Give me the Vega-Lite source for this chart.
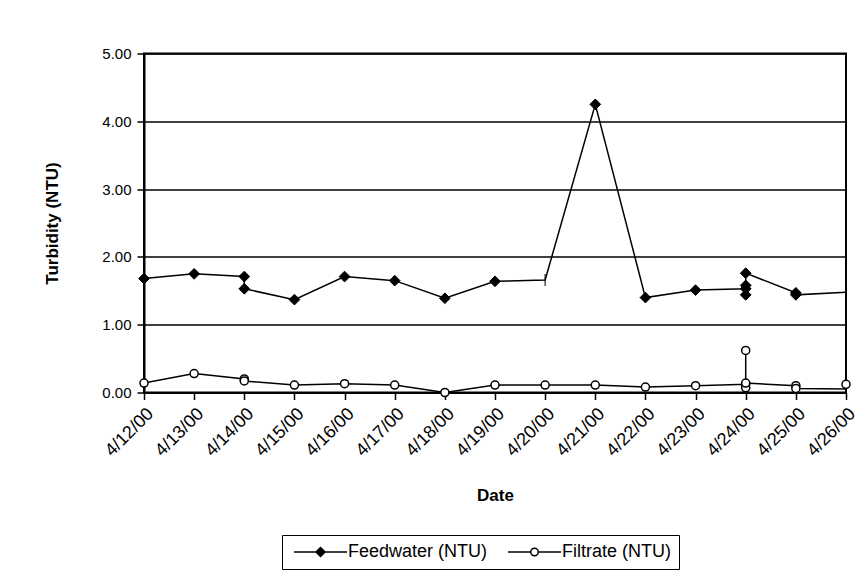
{
  "$schema": "https://vega.github.io/schema/vega-lite/v6.json",
  "width": 702,
  "height": 339,
  "autosize": {"type": "none"},
  "padding": {"left": 144, "top": 53.5, "right": 16, "bottom": 192},
  "background": "white",
  "config": {
    "font": "Liberation Sans",
    "view": {"stroke": "black", "strokeWidth": 2},
    "axis": {"labelFont": "Liberation Sans", "titleFont": "Liberation Sans", "labelColor": "black", "titleColor": "black", "labelFontSize": 15, "titleFontSize": 17, "titleFontWeight": "bold", "domainColor": "black", "tickColor": "black", "domainWidth": 2, "tickWidth": 1.5, "tickSize": 7},
    "legend": {"labelFont": "Liberation Sans", "labelFontSize": 18, "labelColor": "black", "symbolStrokeColor": "black", "symbolStrokeWidth": 1.5}
  },
  "data": {
    "values": [
      {"series": "Feedwater (NTU)", "date": "2000-04-12", "value": 1.68, "seq": 1, "marked": true},
      {"series": "Feedwater (NTU)", "date": "2000-04-13", "value": 1.75, "seq": 2, "marked": true},
      {"series": "Feedwater (NTU)", "date": "2000-04-14", "value": 1.71, "seq": 3, "marked": true},
      {"series": "Feedwater (NTU)", "date": "2000-04-14", "value": 1.53, "seq": 4, "marked": true},
      {"series": "Feedwater (NTU)", "date": "2000-04-15", "value": 1.37, "seq": 5, "marked": true},
      {"series": "Feedwater (NTU)", "date": "2000-04-16", "value": 1.71, "seq": 6, "marked": true},
      {"series": "Feedwater (NTU)", "date": "2000-04-17", "value": 1.65, "seq": 7, "marked": true},
      {"series": "Feedwater (NTU)", "date": "2000-04-18", "value": 1.39, "seq": 8, "marked": true},
      {"series": "Feedwater (NTU)", "date": "2000-04-19", "value": 1.64, "seq": 9, "marked": true},
      {"series": "Feedwater (NTU)", "date": "2000-04-20", "value": 1.66, "seq": 10, "marked": false},
      {"series": "Feedwater (NTU)", "date": "2000-04-21", "value": 4.25, "seq": 11, "marked": true},
      {"series": "Feedwater (NTU)", "date": "2000-04-22", "value": 1.40, "seq": 12, "marked": true},
      {"series": "Feedwater (NTU)", "date": "2000-04-23", "value": 1.51, "seq": 13, "marked": true},
      {"series": "Feedwater (NTU)", "date": "2000-04-24", "value": 1.53, "seq": 14, "marked": true},
      {"series": "Feedwater (NTU)", "date": "2000-04-24", "value": 1.58, "seq": 15, "marked": true},
      {"series": "Feedwater (NTU)", "date": "2000-04-24", "value": 1.44, "seq": 16, "marked": true},
      {"series": "Feedwater (NTU)", "date": "2000-04-24", "value": 1.76, "seq": 17, "marked": true},
      {"series": "Feedwater (NTU)", "date": "2000-04-25", "value": 1.47, "seq": 18, "marked": true},
      {"series": "Feedwater (NTU)", "date": "2000-04-25", "value": 1.44, "seq": 19, "marked": true},
      {"series": "Feedwater (NTU)", "date": "2000-04-26", "value": 1.48, "seq": 20, "marked": false},
      {"series": "Filtrate (NTU)", "date": "2000-04-12", "value": 0.14, "seq": 1, "marked": true},
      {"series": "Filtrate (NTU)", "date": "2000-04-13", "value": 0.28, "seq": 2, "marked": true},
      {"series": "Filtrate (NTU)", "date": "2000-04-14", "value": 0.20, "seq": 3, "marked": true},
      {"series": "Filtrate (NTU)", "date": "2000-04-14", "value": 0.17, "seq": 4, "marked": true},
      {"series": "Filtrate (NTU)", "date": "2000-04-15", "value": 0.11, "seq": 5, "marked": true},
      {"series": "Filtrate (NTU)", "date": "2000-04-16", "value": 0.13, "seq": 6, "marked": true},
      {"series": "Filtrate (NTU)", "date": "2000-04-17", "value": 0.11, "seq": 7, "marked": true},
      {"series": "Filtrate (NTU)", "date": "2000-04-18", "value": 0.00, "seq": 8, "marked": true},
      {"series": "Filtrate (NTU)", "date": "2000-04-19", "value": 0.11, "seq": 9, "marked": true},
      {"series": "Filtrate (NTU)", "date": "2000-04-20", "value": 0.11, "seq": 10, "marked": true},
      {"series": "Filtrate (NTU)", "date": "2000-04-21", "value": 0.11, "seq": 11, "marked": true},
      {"series": "Filtrate (NTU)", "date": "2000-04-22", "value": 0.08, "seq": 12, "marked": true},
      {"series": "Filtrate (NTU)", "date": "2000-04-23", "value": 0.10, "seq": 13, "marked": true},
      {"series": "Filtrate (NTU)", "date": "2000-04-24", "value": 0.12, "seq": 14, "marked": true},
      {"series": "Filtrate (NTU)", "date": "2000-04-24", "value": 0.07, "seq": 15, "marked": true},
      {"series": "Filtrate (NTU)", "date": "2000-04-24", "value": 0.62, "seq": 16, "marked": true},
      {"series": "Filtrate (NTU)", "date": "2000-04-24", "value": 0.14, "seq": 17, "marked": true},
      {"series": "Filtrate (NTU)", "date": "2000-04-25", "value": 0.10, "seq": 18, "marked": true},
      {"series": "Filtrate (NTU)", "date": "2000-04-25", "value": 0.06, "seq": 19, "marked": true},
      {"series": "Filtrate (NTU)", "date": "2000-04-26", "value": 0.05, "seq": 20, "marked": false},
      {"series": "Filtrate (NTU)", "date": "2000-04-26", "value": 0.12, "seq": 21, "marked": true}
    ]
  },
  "encoding": {
    "x": {
      "field": "date", "type": "temporal", "title": "Date",
      "scale": {"type": "utc", "domain": [{"year": 2000, "month": 4, "date": 12, "utc": true}, {"year": 2000, "month": 4, "date": 26, "utc": true}], "nice": false},
      "axis": {"format": "%-m/%-d/%y", "tickCount": {"interval": "day", "step": 1}, "labelAngle": -45, "labelFontSize": 18, "labelPadding": 5, "grid": false, "titlePadding": 28, "labelOverlap": false}
    },
    "y": {
      "field": "value", "type": "quantitative", "title": "Turbidity (NTU)",
      "scale": {"domain": [0, 5], "nice": false, "zero": true},
      "axis": {"values": [0, 1, 2, 3, 4, 5], "format": ".2f", "grid": true, "gridColor": "black", "gridWidth": 1.5, "gridOpacity": 1, "labelPadding": 6, "titlePadding": 40}
    }
  },
  "layer": [
    {
      "mark": {"type": "line", "color": "black", "strokeWidth": 1.5, "clip": false},
      "encoding": {"detail": {"field": "series"}, "order": {"field": "seq", "type": "quantitative"}}
    },
    {
      "transform": [{"filter": "!datum.marked && datum.series === 'Feedwater (NTU)'"}],
      "mark": {"type": "tick", "orient": "vertical", "color": "black", "size": 12, "thickness": 1.5}
    },
    {
      "transform": [{"filter": "datum.marked && datum.series === 'Feedwater (NTU)'"}],
      "mark": {"type": "point", "shape": "diamond", "filled": true, "fill": "black", "stroke": "black", "strokeWidth": 1, "size": 115, "opacity": 1, "clip": false}
    },
    {
      "transform": [{"filter": "datum.marked && datum.series === 'Filtrate (NTU)'"}],
      "mark": {"type": "point", "shape": "circle", "filled": true, "fill": "white", "stroke": "black", "strokeWidth": 1.5, "size": 65, "opacity": 1, "clip": false}
    },
    {
      "transform": [{"filter": "false"}],
      "mark": {"type": "point", "filled": true, "strokeWidth": 1.5, "size": 100, "opacity": 1},
      "encoding": {
        "shape": {"field": "series", "type": "nominal", "scale": {"domain": ["Feedwater (NTU)", "Filtrate (NTU)"], "range": ["M-1,0H9.6M4.3,-0.9L5.2,0L4.3,0.9L3.4,0Z", "M-1,0H3.55M5.05,0H9.6M3.55,0A0.75,0.75,0,1,0,5.05,0A0.75,0.75,0,1,0,3.55,0Z"]},
          "legend": {"title": null, "orient": "none", "legendX": 138, "legendY": 481.5, "direction": "horizontal", "strokeColor": "black", "padding": 8, "labelOffset": 40, "columnPadding": 16, "gridAlign": "all"}},
        "fill": {"field": "series", "type": "nominal", "scale": {"domain": ["Feedwater (NTU)", "Filtrate (NTU)"], "range": ["black", "white"]},
          "legend": {"title": null, "orient": "none", "legendX": 138, "legendY": 481.5, "direction": "horizontal", "strokeColor": "black", "padding": 8, "labelOffset": 40, "columnPadding": 16, "gridAlign": "all"}},
        "stroke": {"field": "series", "type": "nominal", "scale": {"domain": ["Feedwater (NTU)", "Filtrate (NTU)"], "range": ["black", "black"]},
          "legend": {"title": null, "orient": "none", "legendX": 138, "legendY": 481.5, "direction": "horizontal", "strokeColor": "black", "padding": 8, "labelOffset": 40, "columnPadding": 16, "gridAlign": "all"}}
      }
    }
  ]
}
